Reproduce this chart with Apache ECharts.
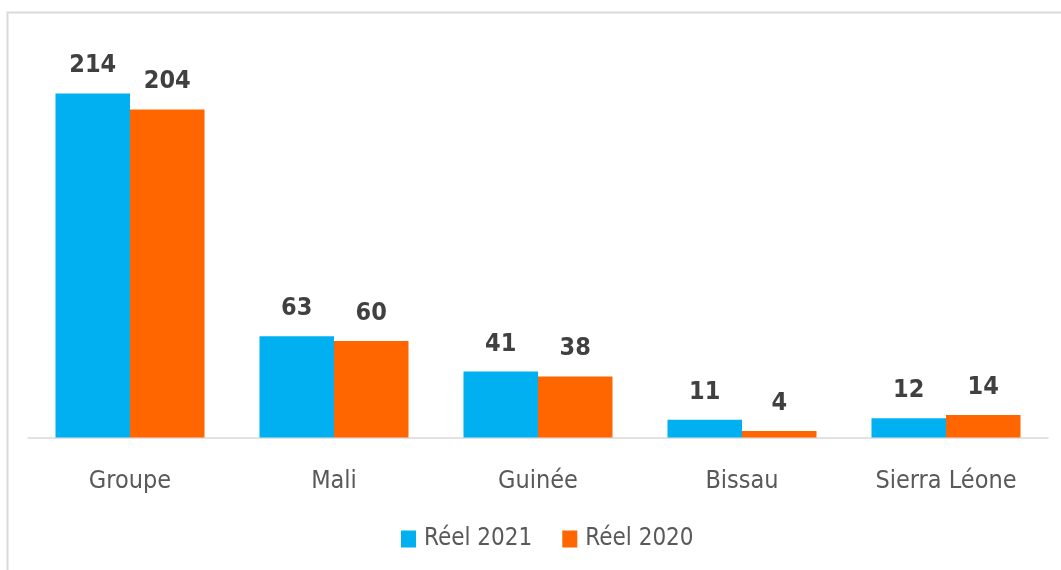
<!DOCTYPE html>
<html>
<head>
<meta charset="utf-8">
<script src="https://cdn.jsdelivr.net/npm/echarts@6/dist/echarts.min.js"></script>
<style>html,body{margin:0;padding:0;background:#fff;}#c{width:1061px;height:570px;}</style>
</head>
<body>
<div id="c"></div>
<script>
var categories = ['Groupe', 'Mali', 'Guinée', 'Bissau', 'Sierra Léone'];
var reel2021 = [214, 63, 41, 11, 12];
var reel2020 = [204, 60, 38, 4, 14];
var seriesNames = ['Réel 2021', 'Réel 2020'];

var FONT = '"Liberation Sans Narrow", "DejaVu Sans Condensed", "Open Sans", sans-serif';
var chart = echarts.init(document.getElementById('c'));
chart.setOption({
  animation: false,
  graphic: [{
    type: 'rect', shape: {x: 7.5, y: 12.5, width: 1100, height: 600},
    style: {fill: 'none', stroke: '#d9d9d9', lineWidth: 2}, silent: true
  }],
  grid: {left: 28, right: 13, top: 35.5, bottom: 132.5},
  legend: {
    data: seriesNames, bottom: 19, left: 401, padding: 0, itemWidth: 15, itemHeight: 17, itemGap: 30,
    icon: 'rect',
    textStyle: {fontFamily: FONT, fontSize: 24, color: '#595959', padding: [0, 0, 0, 3]}
  },
  xAxis: {
    type: 'category', data: categories,
    axisLine: {lineStyle: {color: '#d9d9d9', width: 1.5}},
    axisTick: {show: false},
    axisLabel: {fontFamily: FONT, fontSize: 25, color: '#595959', margin: 31}
  },
  yAxis: {type: 'value', min: 0, max: 250, show: false, splitLine: {show: false}},
  series: [{
    name: seriesNames[0], type: 'bar', data: reel2021, barWidth: 74.5, barGap: '0%',
    itemStyle: {color: '#00B0F0'},
    label: {show: true, position: 'top', distance: 15, fontFamily: FONT, fontSize: 25, fontWeight: 'bold', color: '#404040'}
  }, {
    name: seriesNames[1], type: 'bar', data: reel2020, barWidth: 74.5, barGap: '0%',
    itemStyle: {color: '#FF6600'},
    label: {show: true, position: 'top', distance: 15, fontFamily: FONT, fontSize: 25, fontWeight: 'bold', color: '#404040'}
  }]
});
</script>
</body>
</html>
